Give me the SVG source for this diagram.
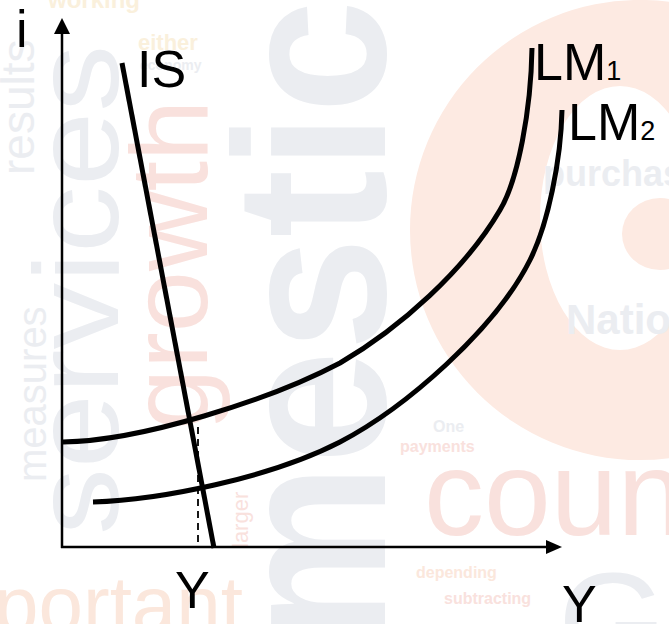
<svg xmlns="http://www.w3.org/2000/svg" width="669" height="624" viewBox="0 0 669 624">
<style>
.bg{font-family:"Liberation Sans",Arial,sans-serif}
.g{fill:#ebedf1}
.r{fill:#f9e1dd}
.o{fill:#fbe7dc}
.y{fill:#faf0dc}
.lbl{font-family:"Liberation Sans",Arial,sans-serif;font-size:52px;fill:#000}
.curve{fill:none;stroke:#000;stroke-width:5;stroke-linecap:butt}
.axis{fill:none;stroke:#000;stroke-width:2.5}
</style>
<rect width="669" height="624" fill="#ffffff"/>
<g id="background" class="bg">
  <path d="M640,0 m-230,230 a230,230 0 1,0 460,0 a230,230 0 1,0 -460,0 Z M540,218 a80,132 0 1,0 160,0 a80,132 0 1,0 -160,0 Z" fill="#fdeae2" fill-rule="evenodd"/>
  <ellipse cx="660" cy="234" rx="38" ry="36" fill="#fdeae2"/>
  <text class="g" font-size="215" font-weight="bold" transform="translate(385,645) rotate(-90)" textLength="645" lengthAdjust="spacingAndGlyphs">mestic</text>
  <text class="g" font-size="120" transform="translate(118,535) rotate(-90)" textLength="490" lengthAdjust="spacingAndGlyphs">services</text>
  <text class="r" font-size="110" transform="translate(207,430) rotate(-90)">growth</text>
  <text class="g" font-size="46" transform="translate(34,175) rotate(-90)">results</text>
  <text class="g" font-size="40" transform="translate(46,482) rotate(-90)">measures</text>
  <text class="r" font-size="22" transform="translate(248,548) rotate(-90)">larger</text>
  <text class="r" font-size="120" x="424" y="535">count</text>
  <text class="o" font-size="80" x="-6" y="632">portant</text>
  <text class="g" font-size="140" x="558" y="670">Go</text>
  <text class="g" font-size="36" font-weight="bold" x="543" y="186">purchase</text>
  <text class="g" font-size="42" font-weight="bold" x="566" y="334">National</text>
  <text class="g" font-size="16" font-weight="bold" x="433" y="432">One</text>
  <text class="r" font-size="16" font-weight="bold" x="400" y="452">payments</text>
  <text class="o" font-size="16" font-weight="bold" x="416" y="578">depending</text>
  <text class="r" font-size="16" font-weight="bold" x="444" y="604">subtracting</text>
  <text class="y" font-size="24" font-weight="bold" x="48" y="8">working</text>
  <text class="y" font-size="22" font-weight="bold" x="138" y="50">either</text>
  <text class="g" font-size="14" font-weight="bold" x="140" y="70">economy</text>
</g>
<g id="axes">
  <line class="axis" x1="62" y1="548" x2="62" y2="32"/>
  <polygon points="62,18 54,34 70,34" fill="#000"/>
  <line class="axis" x1="61" y1="547" x2="548" y2="547"/>
  <polygon points="562,547 546,540 546,554" fill="#000"/>
</g>
<g id="connectors">
  <line x1="198" y1="427" x2="198" y2="545" stroke="#000" stroke-width="1.8" stroke-dasharray="7 5"/>
</g>
<g id="IS">
  <line class="curve" x1="122" y1="63" x2="214" y2="548"/>
  <text class="lbl" x="137" y="87">IS</text>
</g>
<g id="LM1">
  <path class="curve" d="M63,442 C140,441 270,400 340,363 C400,328 465,270 500,210 C518,180 531,110 532,48"/>
  <text class="lbl" x="534" y="80">LM<tspan font-size="27">1</tspan></text>
</g>
<g id="LM2">
  <path class="curve" d="M93,502 C160,500 270,478 340,442 C405,408 495,330 530,260 C548,224 561,160 562,110"/>
  <text class="lbl" x="568" y="140">LM<tspan font-size="27">2</tspan></text>
</g>
<g id="labels">
  <text class="lbl" x="16" y="47">i</text>
  <text class="lbl" x="175" y="608">Y</text>
  <text class="lbl" x="562" y="622">Y</text>
</g>
</svg>
